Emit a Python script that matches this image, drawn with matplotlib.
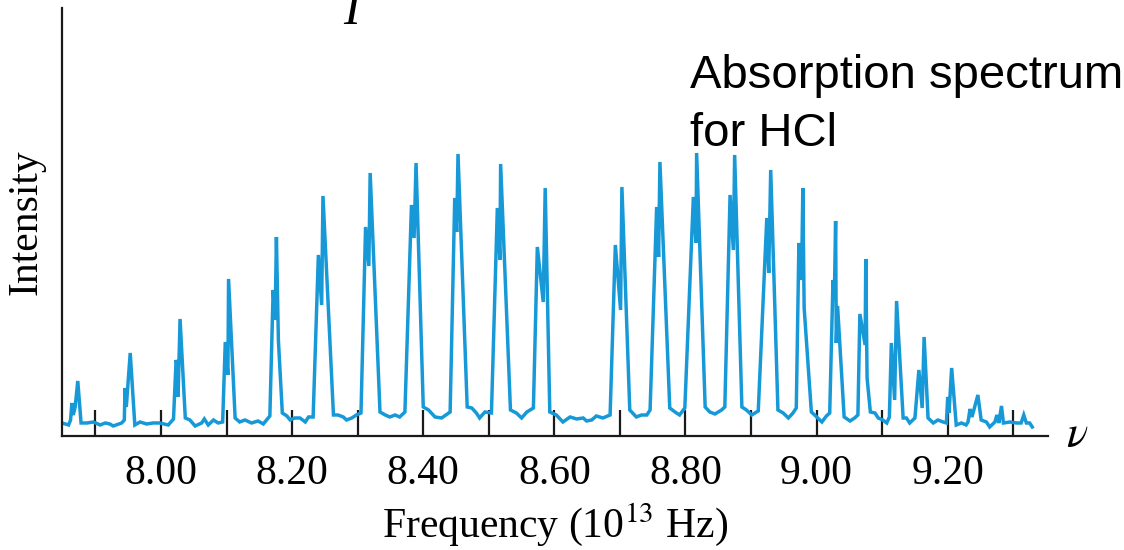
#!/usr/bin/env python3
"""Absorption spectrum of HCl: intensity against frequency (10^13 Hz)."""

import matplotlib

matplotlib.use("Agg")
import matplotlib.pyplot as plt
from matplotlib.ticker import FixedLocator, FormatStrFormatter

# trace: frequency in 10^13 Hz, intensity in arbitrary units
FREQ = [
    7.849, 7.859, 7.862, 7.864, 7.866, 7.869, 7.873, 7.878, 7.887, 7.897,
    7.907, 7.915, 7.922, 7.927, 7.940, 7.944, 7.945, 7.947, 7.953, 7.960,
    7.968, 7.978, 7.988, 7.998, 8.011, 8.019, 8.023, 8.025, 8.026, 8.029,
    8.037, 8.044, 8.052, 8.062, 8.066, 8.072, 8.080, 8.087, 8.094, 8.098,
    8.102, 8.103, 8.113, 8.120, 8.128, 8.138, 8.148, 8.156, 8.166, 8.171,
    8.174, 8.176, 8.179, 8.185, 8.192, 8.197, 8.204, 8.212, 8.220, 8.225,
    8.232, 8.240, 8.245, 8.247, 8.263, 8.270, 8.278, 8.283, 8.291, 8.298,
    8.305, 8.312, 8.317, 8.319, 8.334, 8.342, 8.349, 8.357, 8.364, 8.372,
    8.382, 8.386, 8.389, 8.400, 8.408, 8.418, 8.428, 8.441, 8.448, 8.451,
    8.453, 8.467, 8.474, 8.481, 8.486, 8.494, 8.504, 8.513, 8.517, 8.518,
    8.533, 8.542, 8.550, 8.558, 8.568, 8.574, 8.583, 8.586, 8.593, 8.603,
    8.613, 8.624, 8.634, 8.644, 8.649, 8.657, 8.664, 8.674, 8.685, 8.693,
    8.701, 8.703, 8.715, 8.725, 8.733, 8.741, 8.746, 8.756, 8.759, 8.761,
    8.776, 8.784, 8.791, 8.799, 8.812, 8.816, 8.817, 8.830, 8.837, 8.845,
    8.855, 8.860, 8.868, 8.873, 8.875, 8.886, 8.893, 8.901, 8.911, 8.924,
    8.927, 8.930, 8.941, 8.949, 8.957, 8.964, 8.969, 8.973, 8.977, 8.979,
    8.981, 8.992, 8.997, 9.008, 9.015, 9.020, 9.025, 9.027, 9.029, 9.030,
    9.032, 9.042, 9.051, 9.058, 9.063, 9.066, 9.074, 9.075, 9.077, 9.082,
    9.089, 9.094, 9.101, 9.107, 9.111, 9.114, 9.119, 9.122, 9.132, 9.137,
    9.142, 9.150, 9.156, 9.161, 9.164, 9.170, 9.178, 9.185, 9.193, 9.198,
    9.200, 9.202, 9.206, 9.213, 9.221, 9.228, 9.231, 9.234, 9.237, 9.246,
    9.251, 9.259, 9.264, 9.272, 9.275, 9.278, 9.282, 9.285, 9.295, 9.305,
    9.312, 9.316, 9.320, 9.325, 9.329,
]
INTENSITY = [
    0.13, 0.11, 0.16, 0.33, 0.21, 0.29, 0.55, 0.13, 0.13, 0.14,
    0.11, 0.13, 0.12, 0.10, 0.13, 0.16, 0.48, 0.29, 0.83, 0.11,
    0.14, 0.12, 0.13, 0.13, 0.11, 0.17, 0.76, 0.69, 0.39, 1.17,
    0.18, 0.16, 0.10, 0.13, 0.17, 0.11, 0.16, 0.13, 0.14, 0.94,
    0.61, 1.57, 0.18, 0.14, 0.16, 0.13, 0.15, 0.12, 0.20, 1.46,
    1.16, 1.99, 0.96, 0.23, 0.20, 0.16, 0.18, 0.18, 0.14, 0.19,
    0.19, 1.81, 1.31, 2.40, 0.21, 0.21, 0.19, 0.16, 0.18, 0.21,
    0.23, 2.09, 1.70, 2.63, 0.24, 0.21, 0.19, 0.21, 0.19, 0.24,
    2.31, 1.98, 2.73, 0.29, 0.26, 0.19, 0.18, 0.24, 2.38, 2.04,
    2.82, 0.29, 0.28, 0.23, 0.18, 0.24, 0.23, 2.28, 1.76, 2.72,
    0.26, 0.23, 0.18, 0.24, 0.28, 1.89, 1.34, 2.48, 0.24, 0.21,
    0.14, 0.19, 0.17, 0.18, 0.15, 0.16, 0.20, 0.18, 0.21, 1.91,
    1.26, 2.49, 0.26, 0.19, 0.21, 0.21, 0.26, 2.29, 1.79, 2.74,
    0.28, 0.24, 0.21, 0.28, 2.39, 1.93, 2.83, 0.29, 0.24, 0.22,
    0.26, 0.29, 2.41, 1.86, 2.81, 0.29, 0.26, 0.21, 0.25, 2.18,
    1.63, 2.66, 0.26, 0.23, 0.18, 0.23, 0.28, 1.93, 1.56, 2.48,
    1.28, 0.24, 0.21, 0.14, 0.20, 0.23, 1.56, 1.36, 2.15, 0.93,
    1.30, 0.19, 0.15, 0.18, 0.21, 1.22, 0.91, 1.77, 0.58, 0.24,
    0.23, 0.18, 0.16, 0.13, 0.19, 0.93, 0.36, 1.35, 0.18, 0.18,
    0.13, 0.18, 0.66, 0.28, 0.99, 0.18, 0.13, 0.16, 0.14, 0.13,
    0.39, 0.23, 0.68, 0.11, 0.13, 0.11, 0.14, 0.27, 0.19, 0.41,
    0.16, 0.14, 0.09, 0.14, 0.21, 0.13, 0.30, 0.13, 0.14, 0.13,
    0.13, 0.21, 0.13, 0.13, 0.09,
]

MAJOR_TICKS = [8.00, 8.20, 8.40, 8.60, 8.80, 9.00, 9.20]
MINOR_TICKS = [7.90, 8.10, 8.30, 8.50, 8.70, 8.90, 9.10, 9.30]

LINE_COLOR = "#1799d8"
AXIS_COLOR = "#1a1a1a"

plt.rcParams["font.family"] = "serif"
plt.rcParams["font.serif"] = ["Liberation Serif", "DejaVu Serif"]
plt.rcParams["mathtext.fontset"] = "stix"


def main() -> None:
    fig = plt.figure(figsize=(11.24, 5.5), dpi=100)
    ax = fig.add_axes([0.0552, 0.2073, 0.8772, 0.7782])

    ax.plot(FREQ, INTENSITY, color=LINE_COLOR, linewidth=2.5, solid_joinstyle="miter")

    ax.set_xlim(7.849, 9.353)
    ax.set_ylim(0, 4.28)

    for side in ("top", "right"):
        ax.spines[side].set_visible(False)
    for side in ("left", "bottom"):
        ax.spines[side].set_linewidth(1.6)
        ax.spines[side].set_color(AXIS_COLOR)

    ax.xaxis.set_major_locator(FixedLocator(MAJOR_TICKS))
    ax.xaxis.set_minor_locator(FixedLocator(MINOR_TICKS))
    ax.xaxis.set_major_formatter(FormatStrFormatter("%.2f"))
    ax.tick_params(axis="x", which="both", direction="in", length=19, width=1.6,
                   color=AXIS_COLOR, labelsize=30, pad=13)
    ax.set_yticks([])

    ax.set_xlabel("Frequency (10$^{13}$ Hz)", fontsize=30, labelpad=6)
    ax.set_ylabel("Intensity", fontsize=30, labelpad=12)

    # axis symbol at the right end of the frequency axis
    ax.annotate(r"$\nu$", xy=(1.0, 0.0), xycoords="axes fraction",
                xytext=(13, 0), textcoords="offset points",
                fontsize=32, ha="left", va="center")

    # the cut-off letter above the plot and the caption
    fig.text(0.313, 0.956, "I", fontsize=36, style="italic", ha="center", va="baseline")
    fig.text(0.614, 0.840, "Absorption spectrum", family="Liberation Sans",
             fontsize=34, ha="left", va="baseline")
    fig.text(0.614, 0.734, "for HCl", family="Liberation Sans",
             fontsize=34, ha="left", va="baseline")

    fig.savefig("out.png", dpi=100)


if __name__ == "__main__":
    main()
